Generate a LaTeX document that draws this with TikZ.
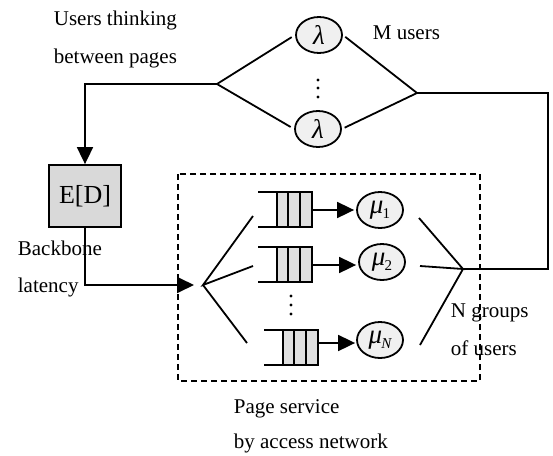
\documentclass[tikz,border=0pt]{standalone}
\usepackage{fontspec}
\setmainfont{Liberation Serif}
\usetikzlibrary{arrows.meta,shapes.geometric}
\newcommand{\subsc}[1]{\kern-1pt\raisebox{-5pt}{\fontsize{15}{15}\selectfont #1}}
\begin{document}
\begin{tikzpicture}[x=1pt,y=-1pt,line width=1.8pt,
  srv/.style={ellipse,draw,fill=gray!12,minimum width=46pt,minimum height=36pt,inner sep=0pt,font=\fontsize{27}{30}\selectfont\itshape},
  lbl/.style={font=\fontsize{21}{25}\selectfont,inner sep=0pt,anchor=base west},
  tip/.style={-{Triangle[length=17pt,width=16pt]}},
  qcell/.style={fill=gray!25,draw=none}]
\useasboundingbox (0,0) rectangle (553,455);

% labels
\node[lbl] (t1) at (53,25) {Users thinking};
\node[lbl] (t2) at (53,63) {between pages};
\node[lbl] (t3) at (372,39) {M users};
\node[lbl] (t4) at (17,255) {Backbone};
\node[lbl] (t5) at (17,292) {latency};
\node[lbl] (t6) at (450,317) {N groups};
\node[lbl] (t7) at (450,355) {of users};
\node[lbl] (t8) at (233,413) {Page service};
\node[lbl] (t9) at (233,448) {by access network};

% dashed box
\draw[line width=1.5pt,dash pattern=on 6pt off 4pt] (178,174) rectangle (480,381);

% lambda servers
\node[srv] (l1) at (319,35) {λ};
\node[srv] (l2) at (318,129) {λ};
\foreach \y in {80,88,97} \fill (318,\y) circle (1.7pt);

\coordinate (lf) at (217,84);
\coordinate (rf) at (417,93);
\coordinate (c1) at (548,93);
\coordinate (gf) at (463,269);
\coordinate (ap) at (203,285);

\draw[shorten >=4pt] (lf) -- (l1.west);
\draw[shorten >=4pt] (lf) -- (l2.west);
\draw[shorten <=3pt] (l1.east) -- (rf);
\draw[shorten <=3pt] (l2.east) -- (rf);
\draw (rf) -- (c1) |- (gf);

% E[D]
\node[draw,fill=gray!30,minimum width=72pt,minimum height=62pt,inner sep=0pt,
      font=\fontsize{26}{30}\selectfont] (ed) at (85,196) {E[D]};
\draw[tip] (lf) -| (ed.north);
\draw[tip,shorten >=9pt] (ed.south) |- (ap);

% fan in
\coordinate (f1) at (253,216);
\coordinate (f2) at (253,266);
\coordinate (f3) at (247,343);
\draw (f1) -- (ap) -- (f2);
\draw (ap) -- (f3);

% queues
\foreach \n/\x/\y in {1/258/192, 2/258/247, 3/264/330}{
  \fill[qcell] (\x+19,\y) rectangle (\x+54,\y+35);
  \draw (\x,\y) -- (\x+54,\y) -- (\x+54,\y+35) -- (\x,\y+35);
  \draw (\x+19,\y) -- (\x+19,\y+35);
  \draw (\x+30,\y) -- (\x+30,\y+35);
  \draw (\x+42,\y) -- (\x+42,\y+35);
}
\coordinate (q1) at (312,210);
\coordinate (q2) at (312,265);
\coordinate (q3) at (318,343);
\foreach \y in {296,305,314} \fill (291,\y) circle (1.7pt);

% mu servers
\node[srv] (m1) at (380,210) {μ\subsc{\upshape 1}};
\node[srv] (m2) at (382,262) {μ\subsc{\upshape 2}};
\node[srv] (m3) at (380,340) {μ\subsc{N}};
\draw[tip,shorten >=2pt] (q1) -- (q1 -| m1.west);
\draw[tip,shorten >=2pt] (q2) -- (q2 -| m2.west);
\draw[tip,shorten >=1pt] (q3) -- (q3 -| m3.west);

% fan out
\coordinate (g1) at (419,218);
\coordinate (g2) at (420,266);
\coordinate (g3) at (420,345);
\draw (g1) -- (gf) -- (g2);
\draw (g3) -- (gf);
\end{tikzpicture}
\end{document}
